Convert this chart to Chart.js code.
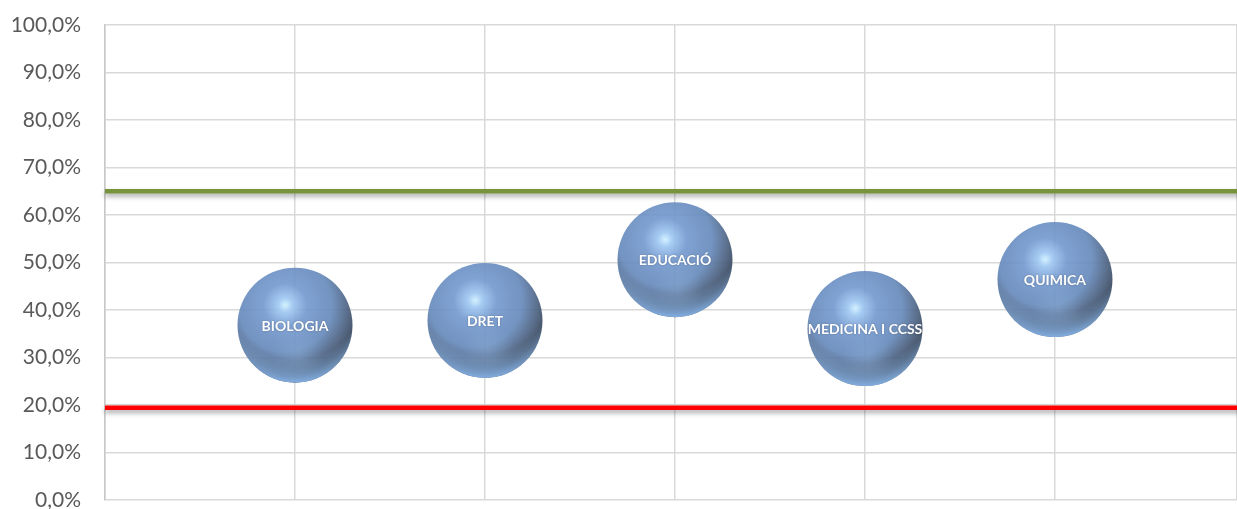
<!DOCTYPE html>
<html>
<head>
<meta charset="utf-8">
<script src="https://cdn.jsdelivr.net/npm/chart.js@4"></script>
<style>
  html, body { margin: 0; padding: 0; background: #fff; }
  #wrap { width: 1237px; height: 509px; }
</style>
</head>
<body>
<div id="wrap"><canvas id="chart"></canvas></div>
<script>
// titulacions i percentatge de cadascuna
const carreres = ["BIOLOGIA", "DRET", "EDUCACIÓ", "MEDICINA I CCSS", "QUIMICA"];
const posicio = [1, 2, 3, 4, 5];
const percentatge = [36.8, 37.8, 50.6, 36.1, 46.4];

// línies de referència
const limitSuperior = 65;
const limitInferior = 19.4;

const radi = 57.5;

// esfera: degradat radial amb reflex a dalt a l'esquerra
function esfera(context) {
  if (context.type !== "data") return "#7396c6";
  const chart = context.chart;
  const x = chart.scales.x && chart.scales.x.getPixelForValue(context.raw.x);
  const y = chart.scales.y && chart.scales.y.getPixelForValue(context.raw.y);
  if (!isFinite(x) || !isFinite(y)) return "#7396c6";
  const g = chart.ctx.createRadialGradient(
    x - 0.17 * radi, y - 0.35 * radi, 0,
    x - 0.17 * radi, y - 0.35 * radi, 1.25 * radi
  );
  g.addColorStop(0, "rgba(210,242,255,0.96)");
  g.addColorStop(0.1, "rgba(160,200,242,0.93)");
  g.addColorStop(0.3, "rgba(114,152,206,0.9)");
  g.addColorStop(0.65, "rgba(100,136,186,0.9)");
  g.addColorStop(0.86, "rgba(78,100,132,0.92)");
  g.addColorStop(1, "rgba(60,76,98,0.94)");
  return g;
}

const ombraLinies = {
  id: "ombraLinies",
  beforeDatasetDraw(chart, args) {
    if (chart.data.datasets[args.index].type !== "line") return;
    const ctx = chart.ctx;
    ctx.save();
    ctx.shadowColor = "rgba(0,0,0,0.35)";
    ctx.shadowBlur = 5;
    ctx.shadowOffsetY = 3;
  },
  afterDatasetDraw(chart, args) {
    if (chart.data.datasets[args.index].type !== "line") return;
    chart.ctx.restore();
  }
};

// vora clara a baix i etiquetes blanques
const detallsEsferes = {
  id: "detallsEsferes",
  afterDatasetsDraw(chart) {
    const ctx = chart.ctx;
    const meta = chart.getDatasetMeta(0);
    meta.data.forEach((el, i) => {
      const x = el.x, y = el.y;
      ctx.save();
      ctx.beginPath();
      ctx.arc(x, y, radi, 0, Math.PI * 2);
      ctx.clip();
      const vora = ctx.createRadialGradient(x, y - 0.6 * radi, 1.2 * radi, x, y - 0.6 * radi, 1.62 * radi);
      vora.addColorStop(0, "rgba(140,185,235,0)");
      vora.addColorStop(1, "rgba(140,188,245,0.9)");
      ctx.fillStyle = vora;
      ctx.fillRect(x - radi, y - radi, radi * 2, radi * 2);
      const reflex = ctx.createRadialGradient(x + 0.05 * radi, y + 0.5 * radi, 0, x + 0.05 * radi, y + 0.5 * radi, 0.45 * radi);
      reflex.addColorStop(0, "rgba(150,185,225,0.3)");
      reflex.addColorStop(1, "rgba(150,185,225,0)");
      ctx.fillStyle = reflex;
      ctx.fillRect(x - radi, y - radi, radi * 2, radi * 2);
      ctx.restore();

      ctx.save();
      ctx.font = "bold 14px Lato";
      ctx.fillStyle = "#ffffff";
      ctx.textAlign = "center";
      ctx.textBaseline = "middle";
      ctx.shadowColor = "rgba(0,0,0,0.3)";
      ctx.shadowBlur = 2;
      ctx.fillText(carreres[i], x, y + 1);
      ctx.restore();
    });
  }
};

new Chart(document.getElementById("chart"), {
  type: "bubble",
  data: {
    datasets: [
      {
        label: "Titulacions",
        data: posicio.map((p, i) => ({ x: p, y: percentatge[i] })),
        radius: radi,
        backgroundColor: esfera,
        borderWidth: 0,
        hoverRadius: 0
      },
      {
        type: "line",
        label: "Superior",
        data: [{ x: 0, y: limitSuperior }, { x: 6, y: limitSuperior }],
        borderColor: "#77933c",
        borderWidth: 4.5,
        pointRadius: 0,
        clip: false
      },
      {
        type: "line",
        label: "Inferior",
        data: [{ x: 0, y: limitInferior }, { x: 6, y: limitInferior }],
        borderColor: "#ff0000",
        borderWidth: 4.5,
        pointRadius: 0,
        clip: false
      }
    ]
  },
  options: {
    responsive: true,
    maintainAspectRatio: false,
    animation: false,
    layout: { autoPadding: false, padding: { top: 25, bottom: 9, left: 0, right: 0 } },
    plugins: {
      legend: { display: false },
      tooltip: { enabled: false }
    },
    scales: {
      x: {
        type: "linear",
        min: 0,
        max: 5.958,
        afterFit(scale) { scale.height = 0; },
        ticks: { stepSize: 1, display: false },
        grid: { color: "#d9d9d9", lineWidth: 1.5, drawTicks: false },
        border: { display: false }
      },
      y: {
        min: 0,
        max: 100,
        afterFit(scale) { scale.width = 105; },
        ticks: {
          stepSize: 10,
          padding: 0,
          color: "#595959",
          font: { family: "Lato", size: 21, lineHeight: 0.8 },
          callback: v => v.toFixed(1).replace(".", ",") + "%"
        },
        grid: {
          color: "#d9d9d9",
          lineWidth: 1.5,
          drawTicks: true,
          tickLength: 24,
          tickColor: "rgba(0,0,0,0)"
        },
        border: { color: "#c8c8c8", width: 1.5 }
      }
    }
  },
  plugins: [ombraLinies, detallsEsferes]
});
</script>
</body>
</html>
